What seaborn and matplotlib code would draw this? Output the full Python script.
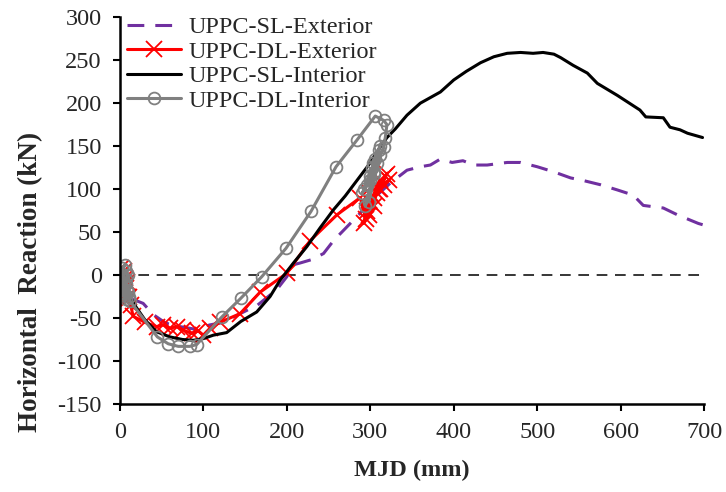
import matplotlib
matplotlib.use("Agg")
import matplotlib.pyplot as plt
import seaborn as sns

# ---- data ----
sl_ext_x = [0, 3, 8, 15, 28, 40, 55, 72, 90, 108, 125, 144, 165, 188, 200, 208, 216, 230, 244, 256, 268, 288,
            305, 324, 344, 360, 372, 384, 398, 411, 424, 440, 464, 480, 500, 520, 540, 555, 576, 596, 615, 627,
            651, 668, 693, 700]
sl_ext_y = [0, -8, -18, -28, -33, -46, -56, -60, -63, -58, -55, -45, -35, -17, -2, 12, 14, 18, 25, 40, 52, 72,
            90, 107, 122, 126, 128, 135, 131, 133, 128, 128, 131, 131, 126, 120, 113, 110, 105, 99, 93, 81,
            78, 70, 60, 58]

dl_ext_x = [0, 2, 5, -2, 1, 6, 9, 3, -1, 4, 8, 11, 6, 2, 7, 10, 13, 16, 30, 44, 52, 60, 68, 76, 86, 94, 100,
            108, 120, 144, 168, 200, 228, 260, 288, 295, 300, 292, 305, 298, 310, 296, 312, 300, 316, 304, 318,
            308, 322, 312, 320]
dl_ext_y = [0, 8, 5, -5, -12, -3, -8, -18, -10, -22, -15, -25, -28, -20, -30, -26, -35, -48, -55, -60, -58, -62,
            -60, -64, -68, -65, -70, -62, -55, -45, -20, 2, 40, 70, 90, 65, 95, 60, 80, 70, 100, 75, 110, 85,
            105, 90, 115, 95, 110, 100, 118]

sl_int_x = [0, 2, 5, 10, 20, 30, 44, 60, 75, 88, 100, 112, 128, 145, 164, 180, 192, 208, 224, 240, 256, 270,
            284, 298, 312, 320, 330, 344, 360, 384, 400, 415, 432, 448, 464, 480, 495, 507, 520, 528, 543, 560,
            572, 596, 623, 630, 651, 659, 671, 680, 698]
sl_int_y = [0, -5, -12, -22, -38, -52, -66, -72, -75, -76, -74, -70, -67, -54, -43, -25, -6, 14, 33, 55, 76, 92,
            110, 128, 149, 160, 170, 186, 200, 213, 227, 237, 247, 254, 258, 259, 258, 259, 257, 253, 244, 235,
            223, 209, 192, 184, 183, 172, 169, 165, 160]

dl_int_x = [0, 3, 6, 2, -1, 4, 8, 10, 5, 1, 3, 7, 9, 6, 2, 4, 8, 11, 7, 3, 6, 10, 12, 45, 58, 70, 84, 92, 122,
            145, 170, 199, 229, 259, 284, 306, 316, 320, 318, 316, 305, 312, 298, 308, 294, 304, 290, 300, 292,
            302, 296, 306, 300, 310, 303, 312]
dl_int_y = [0, 8, 12, 2, -6, -3, 5, 0, -12, -8, -15, -5, -18, -22, -14, -20, -10, -25, -28, -18, -24, -20, -30,
            -72, -80, -83, -83, -81, -49, -27, -2, 31, 74, 126, 157, 185, 180, 175, 160, 149, 120, 140, 85, 130,
            80, 118, 95, 110, 100, 125, 105, 135, 115, 145, 130, 150]

labels = ["UPPC-SL-Exterior", "UPPC-DL-Exterior", "UPPC-SL-Interior", "UPPC-DL-Interior"]
x_ticks = [0, 100, 200, 300, 400, 500, 600, 700]
y_ticks = [-150, -100, -50, 0, 50, 100, 150, 200, 250, 300]

sns.set_style("white")
plt.rcParams['font.family'] = ['Liberation Serif', 'DejaVu Serif']
plt.rcParams['axes.unicode_minus'] = False

fig = plt.figure(figsize=(7.26, 4.92), dpi=100)
ax = fig.add_axes([0.165, 0.179, 0.805, 0.786])

ax.plot([0, 700], [0, 0], color="black", lw=1.1, ls=(0, (7, 5)), zorder=1)

sns.lineplot(x=sl_ext_x, y=sl_ext_y, sort=False, estimator=None, ax=ax, color="#7030A0", lw=2.2,
             label=labels[0], linestyle=(0, (5.5, 3.6)))
sns.lineplot(x=dl_ext_x, y=dl_ext_y, sort=False, estimator=None, ax=ax, color="#FF0000", lw=2.2,
             marker="x", markersize=11, markeredgewidth=1.3, markeredgecolor="#FF0000", label=labels[1])
sns.lineplot(x=sl_int_x, y=sl_int_y, sort=False, estimator=None, ax=ax, color="black", lw=2.2,
             label=labels[2])
sns.lineplot(x=dl_int_x, y=dl_int_y, sort=False, estimator=None, ax=ax, color="#808080", lw=2.2,
             marker="o", markersize=8.5, markerfacecolor="none", markeredgecolor="#808080",
             markeredgewidth=1.3, label=labels[3])

ax.set_xlim(0, 700)
ax.set_ylim(-150, 300)
ax.set_xticks(x_ticks)
ax.set_yticks(y_ticks)
ax.tick_params(axis="both", labelsize=17.5, direction="out", length=5, width=1.5, color="black",
               bottom=True, left=True, pad=8)
for side in ["top", "right"]:
    ax.spines[side].set_visible(False)
for side in ["left", "bottom"]:
    ax.spines[side].set_color("black")
    ax.spines[side].set_linewidth(1.8)

ax.set_xlabel("MJD (mm)", fontsize=17.5, fontweight="bold", labelpad=12.5)
ax.set_ylabel("Horizontal  Reaction (kN)", fontsize=19.5, fontweight="bold")
ax.yaxis.set_label_coords(-0.132, 0.315)

leg = ax.legend(loc="upper left", bbox_to_anchor=(-0.012, 1.04), frameon=False, fontsize=17.5,
                handlelength=2.2, labelspacing=0.1, handletextpad=0.3, borderaxespad=0.2)

fig.savefig("out.png", dpi=100)
